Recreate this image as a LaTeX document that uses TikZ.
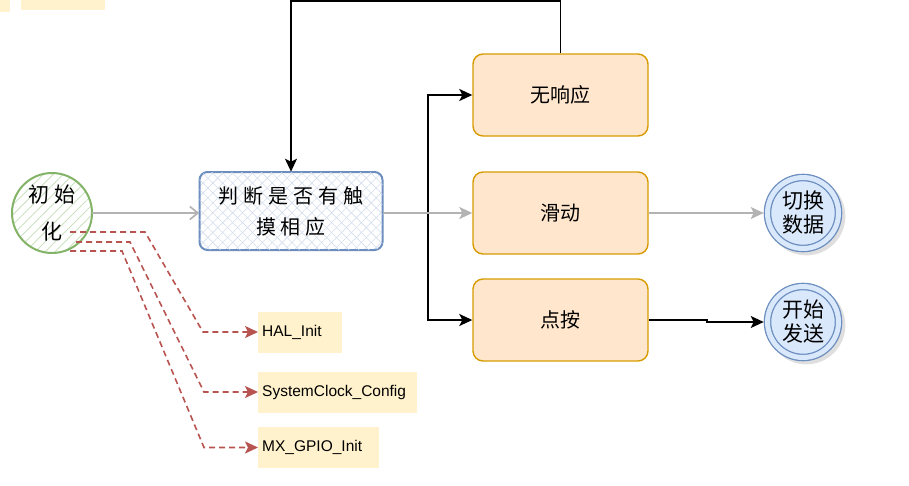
\documentclass[tikz,border=0pt]{standalone}
\usepackage{fontspec}
\setmainfont{Liberation Sans}
\newfontfamily\cjk{Noto Sans CJK SC}
\usetikzlibrary{arrows.meta,positioning,calc,patterns.meta,shadows}
\definecolor{initgreen}{HTML}{82B366}
\definecolor{judgeblue}{HTML}{6C8EBF}
\definecolor{judgefill}{HTML}{DAE8FC}
\definecolor{stepfill}{HTML}{FFE6CC}
\definecolor{stepline}{HTML}{D79B00}
\definecolor{notefill}{HTML}{FFF2CC}
\definecolor{dashred}{HTML}{B85450}
\definecolor{flowgray}{HTML}{B3B3B3}
\newcommand{\cgap}{\hspace{5pt}}
\tikzset{
  stepbox/.style={rounded corners=10pt, draw=stepline, fill=stepfill, line width=1.4pt,
    minimum width=175pt, minimum height=82pt, font=\cjk\fontsize{20}{24}\selectfont},
  endcircle/.style={circle, draw=judgeblue, double=judgefill, double distance=5pt,
    line width=1.3pt, fill=judgefill, minimum size=71pt, inner sep=0pt, outer sep=3.8pt,
    drop shadow={shadow xshift=3pt, shadow yshift=-3pt, shadow scale=1.1, fill=black!25},
    align=center, font=\cjk\fontsize{21}{24}\selectfont},
  notebox/.style={fill=notefill, inner sep=4pt, align=left, minimum height=41pt,
    font=\fontsize{15.5}{18}\selectfont},
  grayflow/.style={draw=flowgray, line width=1.7pt, -{Stealth[length=13pt,width=12pt,inset=3pt]}},
  blackflow/.style={draw=black, line width=1.7pt, -{Stealth[length=13pt,width=12pt,inset=3pt]}},
  redflow/.style={draw=dashred, line width=1.6pt, dash pattern=on 6pt off 4pt,
    -{Stealth[length=13pt,width=12pt,inset=3pt]}}
}
\begin{document}
\begin{tikzpicture}[x=1pt,y=-1pt]
\useasboundingbox (0,0) rectangle (909,485);
% cut-off notes at the top
\fill[notefill] (0,0) rectangle (10,12);
\fill[notefill] (21,0) rectangle (105,10);

\node[circle, draw=initgreen, line width=2pt, minimum size=80pt, inner sep=0pt,
  pattern={Lines[angle=45,distance=7pt,line width=0.9pt]}, pattern color=initgreen!40,
  align=center, font=\cjk\fontsize{21}{37}\selectfont] (init) at (52,213) {初\cgap 始\\化};
\node[rounded corners=8pt, draw=judgeblue, line width=2pt, minimum width=183pt, minimum height=78pt,
  pattern={Lines[angle=45,distance=7pt,line width=0.6pt]}, pattern color=judgeblue!30,
  postaction={pattern={Lines[angle=-45,distance=7pt,line width=0.6pt]}, pattern color=judgeblue!30},
  align=center, font=\cjk\fontsize{20}{31}\selectfont] (judge) at (291,211)
  {判\cgap 断\cgap 是\cgap 否\cgap 有\cgap 触\\摸\cgap 相\cgap 应};

\node[stepbox] (silent) at (560.5,95) {无响应};
\node[stepbox] (slide) at (560.5,213) {滑动};
\node[stepbox] (tap) at (560.5,320) {点按};

\node[endcircle] (swap) at (803,213) {切换\\数据};
\node[endcircle] (send) at (803,322) {开始\\发送};

\node[notebox, text width=76pt, anchor=west] (hal) at (258,332) {HAL\_Init};
\node[notebox, text width=151pt, anchor=west] (clock) at (258,392) {SystemClock\_Config};
\node[notebox, text width=113pt, anchor=west] (gpio) at (258,447.5) {MX\_GPIO\_Init};

% connectors
\coordinate (split) at (428,213);
\draw[blackflow] (judge.east |- slide.west) -- (split) |- (silent.west);
\draw[blackflow] (split) |- (tap.west);
\draw[blackflow] (silent.north) -- ++(0,-52) -| (judge.north);
\draw[draw=flowgray, line width=1.7pt, -{Straight Barb[length=8pt,width=13pt,line width=1.7pt]}]
  (init.east) -- (init.east -| judge.west);
\draw[grayflow] (judge.east |- slide.west) -- (slide.west);
\draw[grayflow] (slide.east) -- (swap.west);
\draw[blackflow] (tap.east) -- (707,320) -- (707,322) -- (send.west);

\coordinate (o1) at (70,232);
\coordinate (o2) at (76,242);
\coordinate (o3) at (70,251);
\draw[redflow] (o1) -- (145,232) -- (203,332) -- (hal.west);
\draw[redflow] (o2) -- (130,242) -- (204,392) -- (clock.west);
\draw[redflow] (o3) -- (122,251) -- (204,447.5) -- (gpio.west);
\end{tikzpicture}
\end{document}
